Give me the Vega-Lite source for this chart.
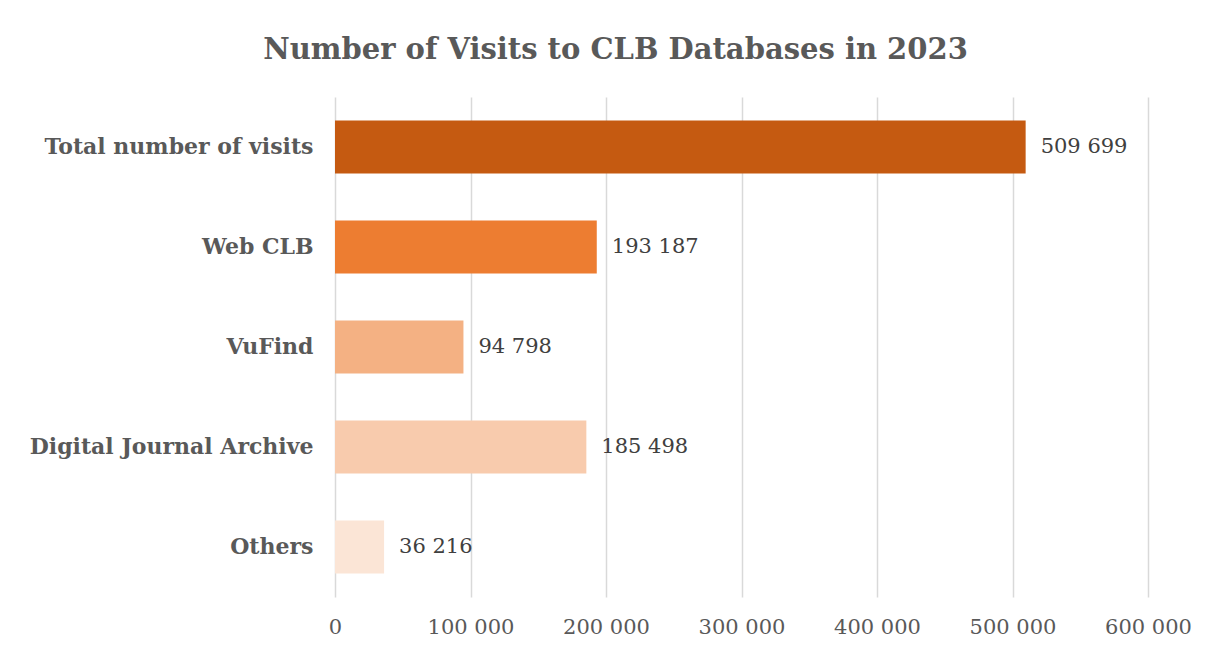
{
  "$schema": "https://vega.github.io/schema/vega-lite/v6.json",
  "autosize": "none",
  "width": 813,
  "height": 500,
  "padding": {"left": 335, "top": 97, "right": 71, "bottom": 56},
  "background": "white",
  "config": {
    "view": {"stroke": null},
    "font": "DejaVu Serif",
    "locale": {"number": {"decimal": ".", "thousands": " ", "grouping": [3], "currency": ["", ""]}}
  },
  "title": {
    "text": "Number of Visits to CLB Databases in 2023",
    "font": "DejaVu Serif",
    "fontSize": 29,
    "fontWeight": "bold",
    "color": "#595959",
    "anchor": "middle",
    "dx": -126,
    "offset": 32
  },
  "data": {
    "values": [
      {"category": "Total number of visits", "visits": 509699},
      {"category": "Web CLB", "visits": 193187},
      {"category": "VuFind", "visits": 94798},
      {"category": "Digital Journal Archive", "visits": 185498},
      {"category": "Others", "visits": 36216}
    ]
  },
  "encoding": {
    "y": {
      "field": "category",
      "type": "nominal",
      "sort": null,
      "scale": {"paddingInner": 0.47, "paddingOuter": 0.235},
      "axis": {
        "title": null,
        "domain": false,
        "ticks": false,
        "labelFont": "DejaVu Serif",
        "labelFontSize": 22,
        "labelFontWeight": "bold",
        "labelColor": "#595959",
        "labelPadding": 22,
        "labelLimit": 400
      }
    },
    "x": {
      "field": "visits",
      "type": "quantitative",
      "scale": {"domain": [0, 600000], "nice": false},
      "axis": {
        "title": null,
        "values": [0, 100000, 200000, 300000, 400000, 500000, 600000],
        "format": ",d",
        "domain": false,
        "ticks": false,
        "grid": true,
        "gridColor": "#D9D9D9",
        "gridWidth": 1.5,
        "labelFlush": false,
        "labelOverlap": false,
        "labelFont": "DejaVu Serif",
        "labelFontSize": 21,
        "labelColor": "#595959",
        "labelPadding": 19
      }
    }
  },
  "layer": [
    {
      "mark": {"type": "bar"},
      "encoding": {
        "color": {
          "field": "category",
          "type": "nominal",
          "sort": null,
          "scale": {"range": ["#C55A11", "#ED7D31", "#F4B183", "#F8CBAD", "#FBE5D6"]},
          "legend": null
        }
      }
    },
    {
      "mark": {"type": "text", "align": "left", "baseline": "middle", "dx": 15, "fontSize": 21, "color": "#404040", "font": "DejaVu Serif"},
      "encoding": {
        "text": {"field": "visits", "type": "quantitative", "format": ",d"}
      }
    }
  ]
}
